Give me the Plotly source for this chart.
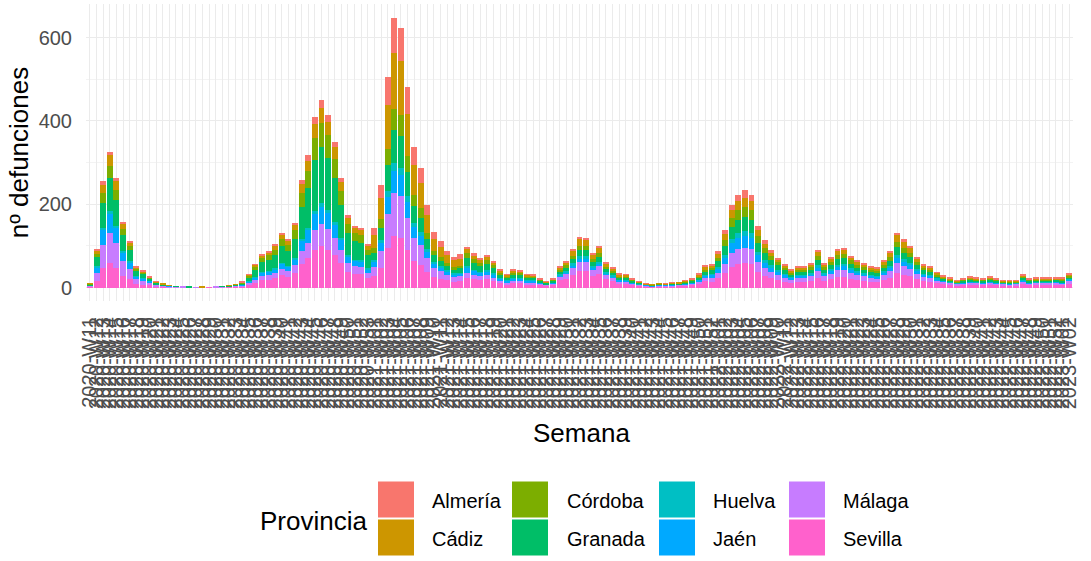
import plotly.graph_objects as go

# ---------------- data ----------------
years_weeks = [(2020, range(11, 54)), (2021, range(1, 53)), (2022, range(1, 53)), (2023, range(1, 3))]
semanas = [f"{y}-W{w:02d}" for y, ws in years_weeks for w in ws]

provincias = ["Almería", "Cádiz", "Córdoba", "Granada", "Huelva", "Jaén", "Málaga", "Sevilla"]
colores = ["#F8766D", "#CD9600", "#7CAE00", "#00BE67", "#00BFC4", "#00A9FF", "#C77CFF", "#FF61CC"]

sevilla = [2,16,46,59,48,28,20,9,7,5,
           3,2,1,1,1,0,0,1,1,1,
           1,2,2,3,7,12,18,19,23,29,
           26,34,57,70,90,99,91,77,58,38,
           33,32,23,27,47,96,124,119,91,64,
           55,38,25,21,17,14,15,24,20,18,
           20,16,11,8,11,11,8,8,6,4,
           6,17,21,30,40,40,28,33,20,16,
           9,9,6,4,3,2,3,3,3,4,
           5,6,9,15,14,22,34,50,56,58,
           56,37,28,23,18,14,11,14,14,16,
           24,16,20,25,26,21,18,16,14,13,
           18,24,36,31,27,20,15,14,10,8,
           6,5,6,7,6,6,7,6,5,5,
           5,9,6,6,7,6,7,6,9]
malaga = [2,20,56,72,58,35,25,11,9,6,
          3,2,2,1,1,1,1,0,0,1,
          1,1,2,2,4,7,10,11,12,16,
          14,19,31,38,49,54,50,42,32,21,
          18,17,12,23,40,81,104,100,77,54,
          46,32,21,18,14,12,13,12,10,9,
          9,8,5,4,5,5,4,4,3,2,
          3,9,12,17,22,22,15,18,11,8,
          6,6,4,3,2,1,2,2,2,2,
          3,4,6,9,9,14,22,32,36,37,
          36,24,18,14,12,9,7,9,9,11,
          16,11,13,17,17,14,12,11,9,9,
          12,16,24,21,18,13,10,9,7,6,
          5,4,4,5,5,4,5,4,4,3,
          4,6,4,5,4,5,5,4,7]
jaen = [1,13,36,46,37,22,16,7,6,4,
        2,1,1,0,0,0,0,0,0,0,
        0,0,1,1,3,5,7,8,9,12,
        10,14,23,29,37,40,37,32,24,16,
        13,13,9,12,20,40,51,50,38,27,
        23,16,11,9,7,6,6,12,10,9,
        10,8,5,4,5,5,4,4,2,2,
        2,3,3,5,6,6,4,5,3,2,
        3,2,2,1,1,1,1,1,1,1,
        1,2,3,4,7,10,16,24,27,28,
        27,18,14,11,9,7,5,5,5,5,
        8,5,7,8,9,7,6,5,5,4,
        6,8,12,10,9,7,5,5,3,2,
        2,1,2,2,2,2,2,2,1,1,
        1,2,2,2,2,2,2,2,3]
huelva = [0,2,5,7,5,3,2,1,1,0,
          0,0,0,0,0,0,0,0,0,0,
          0,0,0,0,1,1,2,2,2,3,
          2,3,5,6,8,9,8,7,5,3,
          3,3,2,4,7,15,19,19,14,10,
          9,6,4,3,3,2,2,3,2,2,
          2,2,1,1,1,1,1,1,1,0,
          1,3,4,6,7,7,5,6,4,3,
          2,2,1,1,0,0,1,0,1,0,
          1,1,2,3,3,4,7,10,11,12,
          11,7,6,5,4,3,2,3,3,3,
          5,3,4,5,5,4,3,3,3,2,
          3,4,7,6,5,4,3,3,2,1,
          1,1,1,1,1,1,1,1,1,1,
          1,2,1,1,1,1,1,1,2]
granada = [3,22,61,78,63,38,27,12,10,6,
           4,2,1,1,0,1,0,0,0,0,
           1,1,2,4,9,17,24,26,31,40,
           35,47,78,95,123,135,125,105,79,52,
           44,43,31,17,30,61,79,75,58,41,
           34,24,16,13,11,9,10,20,16,14,
           16,13,9,6,9,8,6,6,4,3,
           4,6,8,11,15,14,10,12,7,6,
           4,4,3,2,1,1,1,1,2,2,
           2,3,4,7,8,13,21,30,33,35,
           33,22,17,13,11,8,7,7,7,8,
           13,8,10,13,13,11,9,8,7,7,
           9,12,18,16,14,10,8,7,5,4,
           3,2,3,4,3,3,4,3,2,2,
           2,4,3,3,3,3,3,3,4]
cordoba = [1,8,23,29,24,14,10,5,3,2,
           1,1,0,0,0,0,0,0,0,0,
           0,0,0,2,4,7,10,11,14,17,
           15,20,34,41,53,58,54,46,34,23,
           19,19,14,12,20,40,51,50,38,27,
           23,16,11,9,7,6,6,12,10,8,
           9,8,5,4,5,5,4,3,2,2,
           2,4,5,7,10,10,7,8,5,4,
           3,3,2,1,1,1,1,1,1,1,
           2,2,3,5,6,9,14,20,22,23,
           22,15,11,9,7,6,4,5,5,6,
           9,6,7,9,10,8,7,6,5,5,
           7,9,13,12,10,7,6,5,4,3,
           2,2,2,2,2,2,2,2,2,2,
           2,3,2,2,2,2,2,2,3]
cadiz = [1,7,20,26,21,13,9,4,3,2,
         1,1,1,0,0,0,0,1,0,0,
         0,1,1,1,2,5,6,7,8,11,
         9,12,21,25,33,36,33,28,21,14,
         12,12,8,30,52,106,136,131,101,71,
         60,42,28,24,18,16,17,10,8,7,
         8,6,5,3,5,4,3,3,2,1,
         2,7,8,12,16,16,11,13,8,6,
         4,4,2,2,1,1,1,1,1,2,
         3,2,4,7,6,9,14,20,22,23,
         22,15,11,9,7,6,4,6,6,7,
         10,7,8,10,11,7,7,7,6,5,
         7,10,15,13,11,8,6,6,4,3,
         3,2,2,3,3,2,3,2,2,2,
         2,3,2,3,3,2,2,3,3]
almeria = [0,3,8,9,8,4,3,1,1,1,
           1,0,0,0,0,0,0,0,0,0,
           0,0,0,1,1,2,3,4,5,4,
           5,7,10,14,17,18,17,13,10,7,
           6,5,5,19,31,66,84,80,64,44,
           37,25,18,15,11,9,11,5,6,4,
           5,3,3,1,3,3,1,2,1,1,
           1,3,3,4,5,5,4,5,2,2,
           2,1,1,1,1,0,0,1,1,0,
           1,1,2,2,3,6,9,13,16,17,
           16,10,8,6,4,3,4,3,3,4,
           5,4,5,5,5,4,4,4,3,3,
           4,5,7,7,6,5,3,3,2,2,
           1,1,1,2,1,1,2,1,1,1,
           1,2,1,1,1,2,1,2,2]

y_ticks = [0, 200, 400, 600]

series = {"Almería": almeria, "Cádiz": cadiz, "Córdoba": cordoba, "Granada": granada,
          "Huelva": huelva, "Jaén": jaen, "Málaga": malaga, "Sevilla": sevilla}
color_map = dict(zip(provincias, colores))

# ---------------- figure ----------------
W, H = 1091, 561
PL, PR, PT, PB = 86, 1073, 4, 301  # panel pixel box
FONT = "Liberation Sans, Arial, sans-serif"

fig = go.Figure()
# ggplot stacks the first level on top -> add in reverse order
for prov in reversed(provincias):
    fig.add_trace(go.Bar(x=semanas, y=series[prov], name=prov,
                         marker=dict(color=color_map[prov], line=dict(width=0)),
                         showlegend=False))

totals = [sum(v) for v in zip(*series.values())]
ymax = max(totals)
pad = 0.05 * ymax

fig.update_layout(
    width=W, height=H,
    margin=dict(l=PL, r=W - PR, t=PT, b=H - PB),
    barmode="stack", bargap=0.1,
    plot_bgcolor="white", paper_bgcolor="white",
    font=dict(family=FONT, color="black"),
)
fig.update_xaxes(
    type="category", categoryorder="array", categoryarray=semanas,
    tickmode="array", tickvals=semanas, ticktext=semanas,
    tickangle=-90, tickfont=dict(size=20, color="#4D4D4D", family=FONT),
    ticks="", ticklabelstandoff=11,
    range=[-0.6, len(semanas) - 0.4],
    showgrid=True, gridcolor="#EBEBEB", gridwidth=1.1,
    zeroline=False, showline=False,
    automargin=False,
)
fig.update_yaxes(
    range=[-pad, ymax + pad],
    tickmode="array", tickvals=y_ticks, ticktext=[str(v) for v in y_ticks],
    tickfont=dict(size=20, color="#4D4D4D", family=FONT),
    ticks="", ticklabelstandoff=13,
    showgrid=True, gridcolor="#EBEBEB", gridwidth=1.1,
    minor=dict(dtick=100, tick0=0, showgrid=True, gridcolor="#F3F3F3", gridwidth=0.6),
    zeroline=False, showline=False,
    title=dict(text="nº defunciones", font=dict(size=26, color="black"), standoff=2),
    automargin=False,
)

# ---------------- legend (ggplot-style, 2 rows x 4 columns) ----------------
def px_x(px):
    return (px - PL) / (PR - PL)

def px_y(py):
    return (PB - py) / (PB - PT)

key_cols = [378, 512, 659, 789]
label_cols = [430, 565, 711, 841]
key_rows = [(481.5, 517.5), (519.5, 555.5)]
KEY_W = 36

shapes = []
annotations = []
for idx, prov in enumerate(provincias):
    c, r = idx // 2, idx % 2
    y0, y1 = key_rows[r]
    shapes.append(dict(type="rect", xref="paper", yref="paper",
                       x0=px_x(key_cols[c]), x1=px_x(key_cols[c] + KEY_W),
                       y0=px_y(y1), y1=px_y(y0),
                       fillcolor=color_map[prov], line=dict(width=0), layer="above"))
    annotations.append(dict(xref="paper", yref="paper", x=px_x(label_cols[c]),
                            y=px_y((y0 + y1) / 2 + 1.5), text=prov, showarrow=False,
                            xanchor="left", yanchor="middle",
                            font=dict(size=20, color="black", family=FONT)))
annotations.append(dict(xref="paper", yref="paper", x=px_x(258), y=px_y(521),
                        text="Provincia", showarrow=False, xanchor="left", yanchor="middle",
                        font=dict(size=26, color="black", family=FONT)))
# x-axis title (ggplot position)
annotations.append(dict(xref="paper", yref="paper", x=px_x(581), y=px_y(433),
                        text="Semana", showarrow=False, xanchor="center", yanchor="middle",
                        font=dict(size=26, color="black", family=FONT)))
fig.update_layout(shapes=shapes, annotations=annotations)

fig.write_html("out.html", config={"displayModeBar": False},
               post_script="document.body.style.margin='0';document.body.style.overflow='hidden';")
